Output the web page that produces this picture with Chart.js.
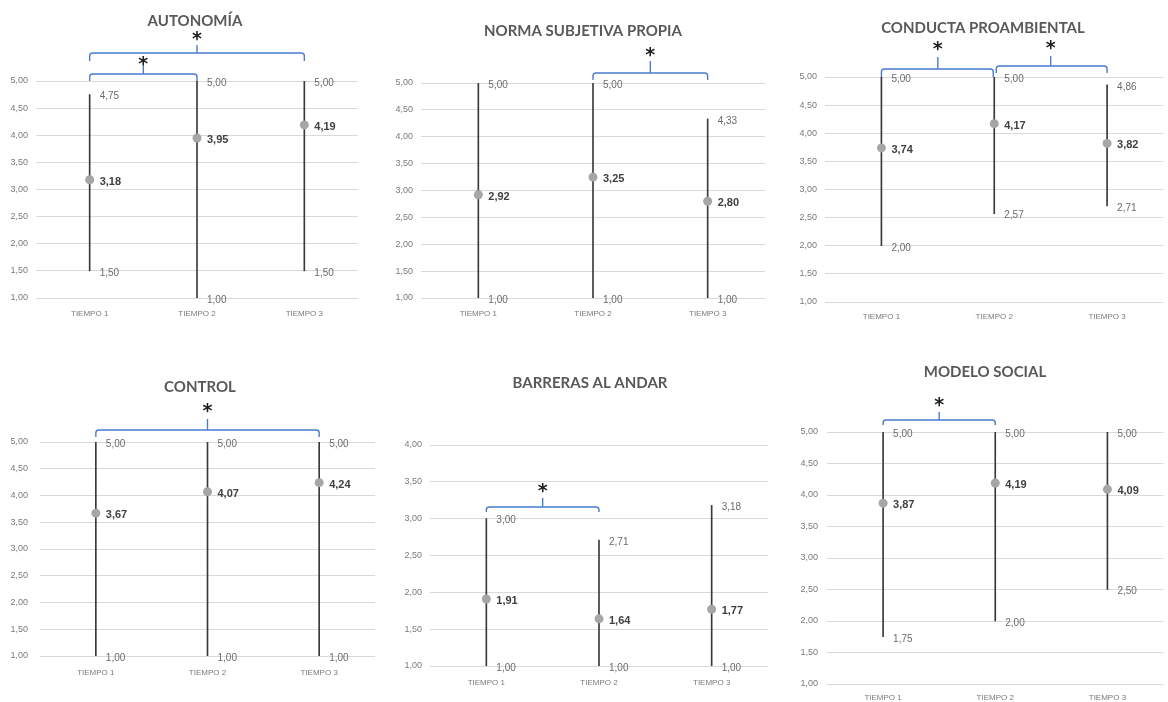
<!DOCTYPE html>
<html><head><meta charset="utf-8">
<script src="https://cdn.jsdelivr.net/npm/chart.js@4.4.1/dist/chart.umd.min.js"></script>
<style>
html,body{margin:0;padding:0;background:#fff;}
body{width:1168px;height:702px;position:relative;overflow:hidden;}
canvas{position:absolute;}
</style></head><body>
<canvas id="c1"></canvas><canvas id="c2"></canvas><canvas id="c3"></canvas>
<canvas id="c4"></canvas><canvas id="c5"></canvas><canvas id="c6"></canvas>
<script>
// ---------- data ----------
const categories = ['TIEMPO 1', 'TIEMPO 2', 'TIEMPO 3'];
const yTicksFive = [1.00, 1.50, 2.00, 2.50, 3.00, 3.50, 4.00, 4.50, 5.00];
const yTicksFour = [1.00, 1.50, 2.00, 2.50, 3.00, 3.50, 4.00];

const autonomiaMean = [3.18, 3.95, 4.19];
const autonomiaMax  = [4.75, 5.00, 5.00];
const autonomiaMin  = [1.50, 1.00, 1.50];
const autonomiaSig  = [[0, 2], [0, 1]];

const normaMean = [2.92, 3.25, 2.80];
const normaMax  = [5.00, 5.00, 4.33];
const normaMin  = [1.00, 1.00, 1.00];
const normaSig  = [[1, 2]];

const conductaMean = [3.74, 4.17, 3.82];
const conductaMax  = [5.00, 5.00, 4.86];
const conductaMin  = [2.00, 2.57, 2.71];
const conductaSig  = [[0, 1], [1, 2]];

const controlMean = [3.67, 4.07, 4.24];
const controlMax  = [5.00, 5.00, 5.00];
const controlMin  = [1.00, 1.00, 1.00];
const controlSig  = [[0, 2]];

const barrerasMean = [1.91, 1.64, 1.77];
const barrerasMax  = [3.00, 2.71, 3.18];
const barrerasMin  = [1.00, 1.00, 1.00];
const barrerasSig  = [[0, 1]];

const modeloMean = [3.87, 4.19, 4.09];
const modeloMax  = [5.00, 5.00, 5.00];
const modeloMin  = [1.75, 2.00, 2.50];
const modeloSig  = [[0, 1]];

// ---------- layout (positions / sizes) ----------
const panels = [
  {id:'c1', title:'AUTONOMÍA', mean:autonomiaMean, max:autonomiaMax, min:autonomiaMin, sig:autonomiaSig, ticks:yTicksFive,
   box:{x:0,y:0,w:385,h:340}, area:{l:36,r:358,t:81,b:298}, titlePos:[195,21], tickPad:8, xPad:11,
   brackets:[{up:28,drop:8,tick:8,star:19},{up:7,drop:7,tick:9,star:15}]},
  {id:'c2', title:'NORMA SUBJETIVA PROPIA', mean:normaMean, max:normaMax, min:normaMin, sig:normaSig, ticks:yTicksFive,
   box:{x:385,y:0,w:390,h:340}, area:{l:421,r:765,t:83,b:298}, titlePos:[583,31], tickPad:8, xPad:11,
   brackets:[{up:10,drop:7,tick:12,star:23}]},
  {id:'c3', title:'CONDUCTA PROAMBIENTAL', mean:conductaMean, max:conductaMax, min:conductaMin, sig:conductaSig, ticks:yTicksFive,
   box:{x:775,y:0,w:393,h:340}, area:{l:825,r:1168,t:77,b:302}, titlePos:[983,28], tickPad:8, xPad:10,
   brackets:[{up:8,drop:8,tick:12,star:25,inR:1},{up:11,drop:7,tick:10,star:23,inL:2}]},
  {id:'c4', title:'CONTROL', mean:controlMean, max:controlMax, min:controlMin, sig:controlSig, ticks:yTicksFive,
   box:{x:0,y:350,w:385,h:352}, area:{l:40,r:375,t:442,b:656}, titlePos:[200,387], tickPad:12, xPad:12,
   brackets:[{up:12,drop:7,tick:11,star:24}]},
  {id:'c5', title:'BARRERAS AL ANDAR', mean:barrerasMean, max:barrerasMax, min:barrerasMin, sig:barrerasSig, ticks:yTicksFour,
   box:{x:385,y:350,w:390,h:352}, area:{l:430,r:768,t:445,b:666}, titlePos:[590,383], tickPad:8, xPad:12,
   brackets:[{up:-62,drop:5,tick:9,star:21}]},
  {id:'c6', title:'MODELO SOCIAL', mean:modeloMean, max:modeloMax, min:modeloMin, sig:modeloSig, ticks:yTicksFive,
   box:{x:775,y:350,w:393,h:352}, area:{l:827,r:1168,t:432,b:684}, titlePos:[985,372], tickPad:9, xPad:9,
   brackets:[{up:12,drop:5,tick:8,star:20}]}
];

const fmt = v => Number(v).toFixed(2).replace('.', ',');

const annotPlugin = {
  id: 'annot',
  afterDatasetsDraw(chart, args, opts) {
    const p = opts.panel;
    const ctx = chart.ctx, xs = chart.scales.x, ys = chart.scales.y, a = chart.chartArea;
    ctx.save();
    ctx.textAlign = 'left';
    ctx.textBaseline = 'middle';
    p.mean.forEach((m, i) => {
      const px = xs.getPixelForValue(i);
      ctx.font = '10px "Liberation Sans", Arial, sans-serif';
      ctx.fillStyle = '#6b6b6b';
      ctx.fillText(fmt(p.max[i]), px + 10, ys.getPixelForValue(p.max[i]) + 2);
      ctx.fillText(fmt(p.min[i]), px + 10, ys.getPixelForValue(p.min[i]) + 2);
      ctx.font = 'bold 11px "Liberation Sans", Arial, sans-serif';
      ctx.fillStyle = '#404040';
      ctx.fillText(fmt(m), px + 10, ys.getPixelForValue(m) + 2);
    });
    // significance brackets
    p.sig.forEach((pair, k) => {
      const g = p.brackets[k];
      const x1 = xs.getPixelForValue(pair[0]) + (g.inL || 0);
      const x2 = xs.getPixelForValue(pair[1]) - (g.inR || 0);
      const xm = (xs.getPixelForValue(pair[0]) + xs.getPixelForValue(pair[1])) / 2;
      const yy = a.top - g.up;
      const r = 3;
      ctx.strokeStyle = '#4A7BD0';
      ctx.lineWidth = 1.4;
      ctx.beginPath();
      ctx.moveTo(x1, yy + g.drop);
      ctx.arcTo(x1, yy, x1 + r, yy, r);
      ctx.arcTo(x2, yy, x2, yy + g.drop, r);
      ctx.lineTo(x2, yy + g.drop);
      ctx.stroke();
      ctx.beginPath();
      ctx.moveTo(xm, yy);
      ctx.lineTo(xm, yy - g.tick);
      ctx.stroke();
      ctx.font = 'bold 19px "DejaVu Sans", sans-serif';
      ctx.fillStyle = '#1e1e1e';
      ctx.textAlign = 'center';
      ctx.textBaseline = 'alphabetic';
      ctx.fillText('*', xm, yy - g.star + 0.57 * 19);
      ctx.textAlign = 'left';
      ctx.textBaseline = 'middle';
    });
    // title
    ctx.font = 'bold 15px Lato, "Liberation Sans", sans-serif';
    ctx.fillStyle = '#595959';
    ctx.textAlign = 'center';
    ctx.textBaseline = 'middle';
    ctx.fillText(p.title, p.titlePos[0] - p.box.x, p.titlePos[1] - p.box.y);
    ctx.restore();
  }
};

panels.forEach(p => {
  const cv = document.getElementById(p.id);
  cv.width = p.box.w; cv.height = p.box.h;
  cv.style.left = p.box.x + 'px'; cv.style.top = p.box.y + 'px';
  cv.style.width = p.box.w + 'px'; cv.style.height = p.box.h + 'px';
  const b = p.box, a = p.area;
  const room = b.y + b.h - a.b;
  const xh = Math.min(p.xPad + 15, room);
  new Chart(cv.getContext('2d'), {
    data: {
      labels: categories,
      datasets: [
        {type: 'line', data: p.mean, showLine: false, pointRadius: 4.5, pointHoverRadius: 4.5,
         pointBackgroundColor: '#A6A6A6', pointBorderWidth: 0, order: 0},
        {type: 'bar', data: p.min.map((v, i) => [v, p.max[i]]), backgroundColor: '#3a3a3a',
         barThickness: 1, grouped: false, order: 1}
      ]
    },
    options: {
      responsive: false, animation: false, devicePixelRatio: 1,
      layout: {padding: {left: 0, top: a.t - b.y, right: b.x + b.w - a.r, bottom: room - xh}},
      plugins: {legend: {display: false}, tooltip: {enabled: false}, title: {display: false}, annot: {panel: p}},
      scales: {
        x: {
          offset: true,
          grid: {display: false, drawTicks: false}, border: {display: false},
          ticks: {font: {family: '"Liberation Sans", Arial, sans-serif', size: 8}, color: '#7a7a7a',
                  padding: p.xPad, maxRotation: 0, autoSkip: false},
          afterFit(s) { s.height = xh; }
        },
        y: {
          min: p.ticks[0], max: p.ticks[p.ticks.length - 1],
          grid: {color: '#D9D9D9', drawTicks: false, lineWidth: 1}, border: {display: false},
          afterBuildTicks(s) { s.ticks = p.ticks.map(v => ({value: v})); },
          ticks: {padding: p.tickPad, font: {family: '"Liberation Sans", Arial, sans-serif', size: 9},
                  color: '#7a7a7a', callback: v => fmt(v)},
          afterFit(s) { s.width = a.l - b.x; }
        }
      }
    },
    plugins: [annotPlugin]
  });
});
</script>
</body></html>
